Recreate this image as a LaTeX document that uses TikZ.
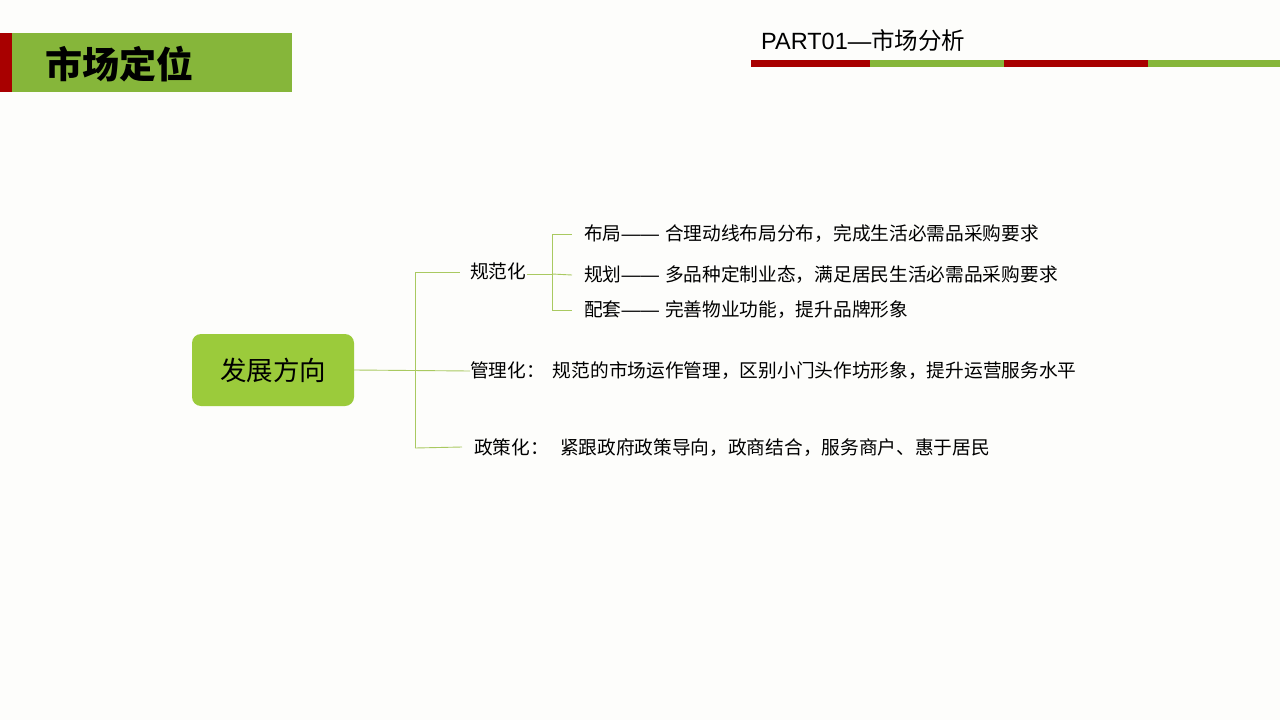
\documentclass[tikz,border=0pt]{standalone}
\usepackage{fontspec}
\setmainfont{Liberation Sans}
\newfontfamily\cjk{Noto Sans CJK SC}
\definecolor{barred}{HTML}{A80000}
\definecolor{bargreen}{HTML}{86B63A}
\definecolor{boxgreen}{HTML}{9BCB3B}
\definecolor{linegreen}{HTML}{A9C960}
\definecolor{bgc}{HTML}{FDFDFB}
\newcommand{\dsh}{{\rmfamily ——}}
\tikzset{
  body/.style={anchor=west, inner sep=0pt, font=\cjk\fontsize{18.7}{22}\selectfont, text=black},
  conn/.style={draw=linegreen, line width=0.9pt},
}
\begin{document}
\begin{tikzpicture}[x=1pt,y=-1pt]
\useasboundingbox (0,0) rectangle (1280,720);
\fill[bgc] (0,0) rectangle (1280,720);
% header
\fill[bargreen] (12,33) rectangle (292,92);
\fill[barred] (0,33) rectangle (12,92);
\node[anchor=west, inner sep=0pt, font=\cjk\bfseries\fontsize{37}{40}\selectfont] (title) at (45,64) {市场定位};
\node[anchor=west, inner sep=0pt, font=\fontsize{23.5}{26}\selectfont] (part) at (761,41) {PART01—{\cjk 市场分析}};
\fill[barred] (751,60) rectangle (870,67);
\fill[bargreen] (870,60) rectangle (1004,67);
\fill[barred] (1004,60) rectangle (1148,67);
\fill[bargreen] (1148,60) rectangle (1280,67);
% main box
\node[fill=boxgreen, rounded corners=9pt, minimum width=162pt, minimum height=72pt, inner sep=0pt, font=\cjk\fontsize{26.5}{30}\selectfont] (root) at (273,370) {发展方向};
% level 1 labels
\node[body] (gfh) at (470,271) {规范化};
\node[body] (glh) at (470,371) {管理化：\hspace{8pt}规范的市场运作管理，区别小门头作坊形象，提升运营服务水平};
\node[body] (zch) at (474,448) {政策化：\hspace{11pt}紧跟政府政策导向，政商结合，服务商户、惠于居民};
% level 2 labels
\node[body] (bj) at (584,234) {布局\dsh\hspace{6pt}合理动线布局分布，完成生活必需品采购要求};
\node[body] (gh) at (584,275) {规划\dsh\hspace{6pt}多品种定制业态，满足居民生活必需品采购要求};
\node[body] (pt) at (584,310) {配套\dsh\hspace{6pt}完善物业功能，提升品牌形象};
% connectors
\coordinate (j1) at (415,370);
\coordinate (j1t) at (415,272);
\coordinate (j1b) at (415,448);
\coordinate (j2) at (552,274);
\coordinate (j2t) at (552,234);
\coordinate (j2b) at (552,310);
\draw[conn] (root.east) -- (glh.west);
\draw[conn] (j1t) -- (j1b);
\draw[conn] (j1t) -- ([xshift=-10pt,yshift=-1pt]gfh.west);
\draw[conn] (j1b) -- ([xshift=-12pt,yshift=1pt]zch.west);
\draw[conn] (gfh.east |- j2) -- (j2);
\draw[conn] (j2t) -- (j2b);
\draw[conn] (j2t) -- ([xshift=-12pt]bj.west);
\draw[conn] (j2) -- ([xshift=-12pt]gh.west);
\draw[conn] (j2b) -- ([xshift=-12pt]pt.west);
\end{tikzpicture}
\end{document}
